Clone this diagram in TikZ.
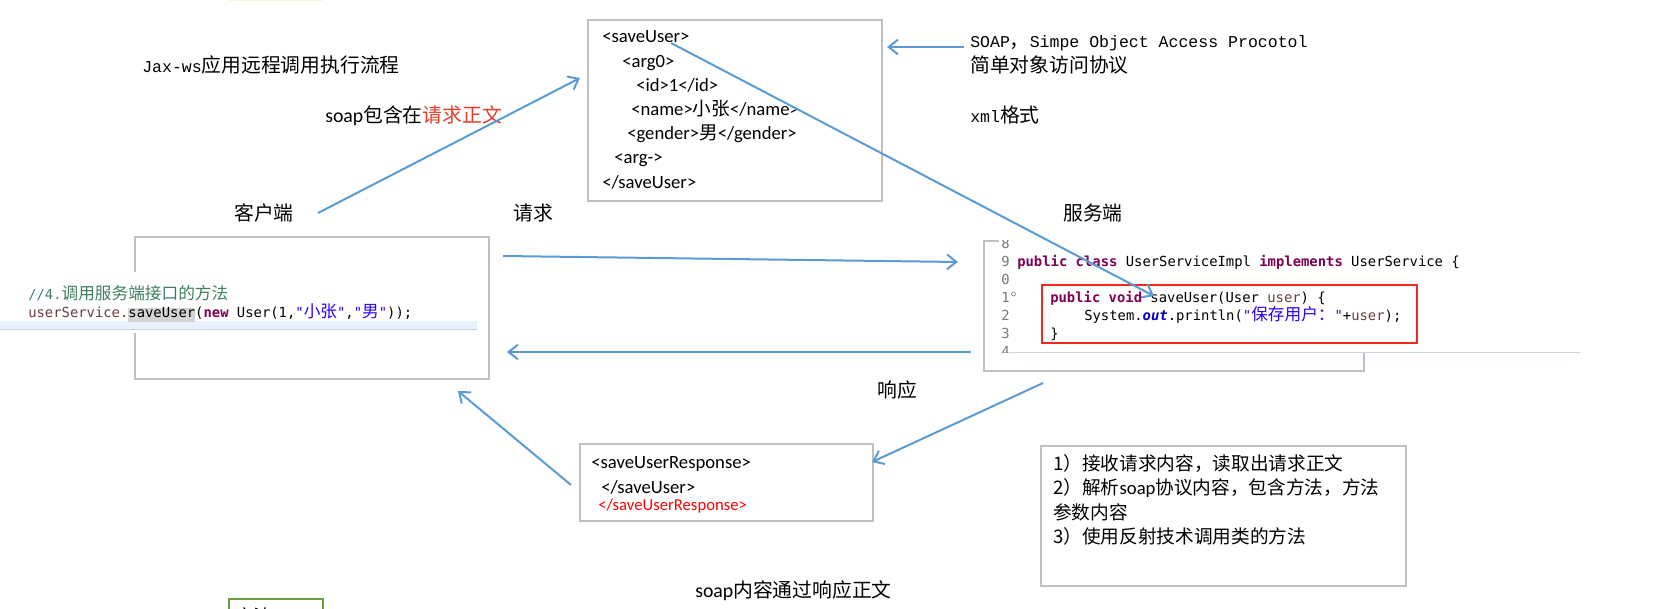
\documentclass[tikz,border=0pt]{standalone}
\usepackage{fontspec}
\setmainfont{Noto Sans CJK SC}
\newfontfamily\cjk{Noto Sans CJK SC}
\newfontfamily\simmono{Liberation Mono}
\newfontfamily\calibri{Carlito}
\newfontfamily\consolas{DejaVu Sans Mono}
\usetikzlibrary{arrows.meta}
\usetikzlibrary{fit}
\usepackage{xcolor}

\definecolor{arrowblue}{RGB}{91,155,213}
\definecolor{framegray}{RGB}{191,191,191}
\definecolor{boxred}{RGB}{240,40,30}
\definecolor{reqred}{RGB}{232,56,40}
\definecolor{kwpurple}{RGB}{127,0,85}
\definecolor{fieldblue}{RGB}{0,0,192}
\definecolor{strblue}{RGB}{42,0,255}
\definecolor{cmtgreen}{RGB}{63,127,95}
\definecolor{varbrown}{RGB}{106,62,62}
\definecolor{lngray}{RGB}{120,120,120}
\definecolor{selgray}{RGB}{212,212,212}
\definecolor{curline}{RGB}{232,242,254}
\definecolor{curlineedge}{RGB}{200,212,226}
\definecolor{notegreen}{RGB}{106,160,64}
\definecolor{palegreen}{RGB}{236,250,222}

\newcommand{\sm}[1]{{\simmono\fontsize{12.4pt}{18pt}\selectfont #1}}
\newcommand{\kw}[1]{\textcolor{kwpurple}{\bfseries #1}}
\newcommand{\codecjk}[1]{{\cjk\fontsize{12.5pt}{13pt}\selectfont #1}}

\tikzset{
  lbl/.style={anchor=west, inner sep=0pt, text height=12pt, text depth=0.8pt, font=\fontsize{14.85pt}{18pt}\selectfont},
  xmltxt/.style={anchor=west, inner sep=0pt, text height=10pt, text depth=1pt, font=\calibri\fontsize{14pt}{17pt}\selectfont},
  steptxt/.style={anchor=west, inner sep=0pt, text height=11.5pt, text depth=0.9pt, font=\fontsize{14pt}{17pt}\selectfont},
  codetxt/.style={anchor=west, inner sep=0pt, text height=8.5pt, text depth=1.3pt, font=\consolas\fontsize{10.4pt}{13pt}\selectfont},
  lnum/.style={codetxt, anchor=east, text=lngray},
  framebox/.style={draw=framegray, line width=1.5pt, inner sep=0pt},
  flow/.style={draw=arrowblue, line width=1.5pt, -{Straight Barb[length=7pt,width=11pt]}},
}

\begin{document}
\begin{tikzpicture}[x=0.75pt,y=0.75pt,yscale=-1,xscale=1]
		\useasboundingbox (0,0) rectangle (1673,609);

		%Shape: Rectangle (edge of a note above)
		\fill [palegreen] (229,0) rectangle (323,1.5) ;

		%Shape: Rectangle
		\node [framebox, fit={(588,20) (882,201)}] (xmlbox) {};
		%Shape: Rectangle
		\node [framebox, fit={(135,237) (489,379)}] (clientbox) {};
		%Shape: Rectangle
		\node [framebox, fit={(984,241) (1364,371)}] (serverbox) {};
		%Shape: Rectangle
		\node [framebox, fit={(580,444) (873,521)}] (respbox) {};
		%Shape: Rectangle
		\node [framebox, fit={(1041,446) (1406,586)}] (stepbox) {};
		%Shape: Rectangle
		\node [draw=notegreen, line width=1.5pt, inner sep=0pt, fit={(229,599) (323,640)}] (notebox) {};

		% Client code
		\begin{scope}
		\clip (0,272) rectangle (477,333);
		\fill [white] (0,272) rectangle (477,333);
		\fill [curline] (0,321) rectangle (477,329);
		\draw [curlineedge, line width=0.75pt] (0,329.5) -- (477,329.5);
		\node [codetxt, text=cmtgreen] (callcmt) at (28,295) {//4.\codecjk{调用服务端接口的方法}};
		\node [codetxt, text=varbrown] (callline) at (28,313) {userService.{\setlength{\fboxsep}{0pt}\colorbox{selgray}{\textcolor{black}{\rule[-3pt]{0pt}{10pt}saveUser}}}\textcolor{black}{(}\kw{new} \textcolor{black}{User(1,}\textcolor{strblue}{"\codecjk{小张}"}\textcolor{black}{,}\textcolor{strblue}{"\codecjk{男}"}\textcolor{black}{));}};
		\end{scope}

		% Server code
		\fill [white] (999,238.5) rectangle (1580,352.5);
		\begin{scope}
		\clip (999,241) rectangle (1580,352.5);
		\node [lnum] (ln8) at (1010,244) {8};
		\node [lnum] (ln9) at (1010,262) {9};
		\node [lnum] (ln10) at (1010,280) {0};
		\node [lnum] (ln11) at (1010,298) {1};
		\node [lnum] (ln12) at (1010,316) {2};
		\node [lnum] (ln13) at (1010,334) {3};
		\node [lnum] (ln14) at (1010,352) {4};
		\draw [lngray, line width=0.4pt] (1013.5,294) circle (2);
		\node [codetxt] (clsline) at (1017,262) {\kw{public} \kw{class} UserServiceImpl \kw{implements} UserService \{};
		\node [codetxt] (sigline) at (1050,298) {\kw{public} \kw{void} saveUser(User \textcolor{varbrown}{user}) \{};
		\node [codetxt] (bodyline) at (1084,316) {System.\textcolor{fieldblue}{\bfseries\itshape out}.println(\textcolor{strblue}{"\codecjk{保存用户：}"}+\textcolor{varbrown}{user});};
		\node [codetxt] (closeline) at (1050,334) {\}};
		\draw [boxred, line width=1.9pt] (1042,285) rectangle (1417,343);
		\end{scope}
		\draw [curlineedge, line width=0.75pt] (1010,353) -- (1580,353);

		% Text Node
		\node [lbl] (title) at (142,65) {\sm{Jax-ws}应用远程调用执行流程};
		% Text Node
		\node [lbl] (soapnote) at (325,115) {{\calibri soap}包含在\textcolor{reqred}{请求正文}};
		% Text Node
		\node [lbl] (clientlbl) at (234,213) {客户端};
		% Text Node
		\node [lbl] (reqlbl) at (513,213) {请求};
		% Text Node
		\node [lbl] (serverlbl) at (1063,213) {服务端};
		% Text Node
		\node [lbl] (resplbl) at (877,390) {响应};
		% Text Node
		\node [lbl] (soapdef) at (970,40) {\sm{SOAP}，\sm{Simpe Object Access Procotol}};
		% Text Node
		\node [lbl] (soapcn) at (970,65) {简单对象访问协议};
		% Text Node
		\node [lbl] (xmlfmt) at (970,115) {\sm{xml}格式};
		% Text Node
		\node [lbl] (respnote) at (695,590) {{\calibri soap}内容通过响应正文};

		% Text Node
		\node [xmltxt] (xsave) at (602,37) {<saveUser>};
		\node [xmltxt] (xarg) at (622,62) {<arg0>};
		\node [xmltxt] (xid) at (636,86) {<id>1</id>};
		\node [xmltxt] (xname) at (631,110) {<name>{\cjk 小张}</name>};
		\node [xmltxt] (xgender) at (627,134) {<gender>{\cjk 男}</gender>};
		\node [xmltxt] (xargend) at (614,158) {<arg->};
		\node [xmltxt] (xsaveend) at (602,183) {</saveUser>};

		% Text Node
		\node [xmltxt] (rsave) at (591,462) {<saveUserResponse>};
		\node [xmltxt] (rsaveend) at (601,487) {</saveUser>};
		\node [xmltxt, text=red, font=\calibri\fontsize{12.5pt}{15pt}\selectfont] (rrespend) at (598,504) {</saveUserResponse>};

		% Text Node
		\node [steptxt] (step1) at (1053,463) {1）接收请求内容，读取出请求正文};
		\node [steptxt] (step2) at (1053,487) {2）解析{\calibri soap}协议内容，包含方法，方法};
		\node [steptxt] (step2b) at (1053,512) {参数内容};
		\node [steptxt] (step3) at (1053,536) {3）使用反射技术调用类的方法};

		% Text Node
		\node [steptxt] (notetxt) at (235,616) {方法};

		% arrow ends
		\coordinate (cliout) at (318,213);
		\coordinate (xmlin) at (580,78);
		\coordinate (soapout) at (964,47);
		\coordinate (soapin) at (887,47);
		\coordinate (tagfrom) at (671,43);
		\coordinate (tagto) at (1154,296);
		\coordinate (reqfrom) at (503,256);
		\coordinate (reqto) at (958,262);
		\coordinate (respfrom) at (971,352);
		\coordinate (respto) at (507,352);
		\coordinate (srvout) at (1043,383);
		\coordinate (respin) at (872,462);
		\coordinate (respout) at (571,485);
		\coordinate (cliin) at (458,391);

		%Straight Lines
		\draw [flow] (cliout) -- (xmlin);
		\draw [flow] (soapout) -- (soapin);
		\draw [flow] (tagfrom) -- (tagto);
		\draw [flow] (reqfrom) -- (reqto);
		\draw [flow] (respfrom) -- (respto);
		\draw [flow] (srvout) -- (respin);
		\draw [flow] (respout) -- (cliin);
\end{tikzpicture}
\end{document}
